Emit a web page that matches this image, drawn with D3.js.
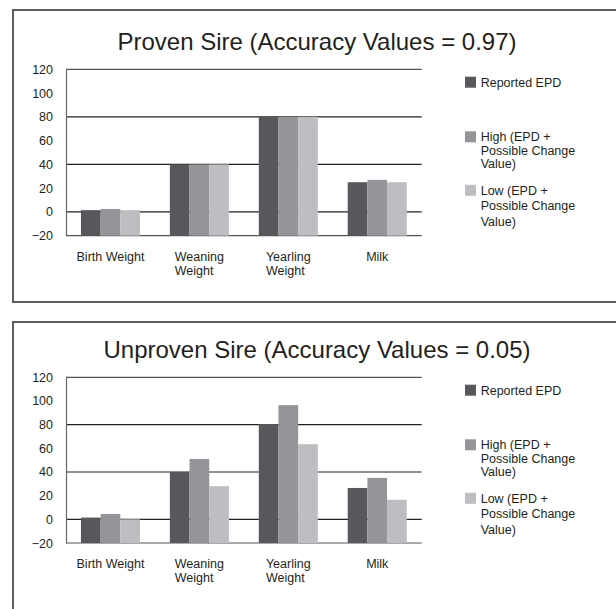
<!DOCTYPE html>
<html>
<head>
<meta charset="utf-8">
<script src="https://cdn.jsdelivr.net/npm/d3@7"></script>
<style>
  body { margin: 0; background: #fff; }
  svg { display: block; font-family: "Liberation Sans", Arial, sans-serif; }
</style>
</head>
<body>
<div id="chart"></div>
<script>
// categories and series
const categories = ["Birth Weight", "Weaning Weight", "Yearling Weight", "Milk"];
const categoryLines = [["Birth Weight"], ["Weaning", "Weight"], ["Yearling", "Weight"], ["Milk"]];
const seriesNames = ["Reported EPD", "High (EPD + Possible Change Value)", "Low (EPD + Possible Change Value)"];
const legendLines = [["Reported EPD"], ["High (EPD +", "Possible Change", "Value)"], ["Low (EPD +", "Possible Change", "Value)"]];

// values
const provenReported = [1.5, 40, 80, 25];
const provenHigh = [2.5, 40, 80, 27];
const provenLow = [1.5, 40, 80, 25];
const unprovenReported = [1.5, 40, 80.5, 26.5];
const unprovenHigh = [4.5, 51, 96.5, 35];
const unprovenLow = [0, 28, 63.5, 16.5];

const yTicks = [-20, 0, 20, 40, 60, 80, 100, 120];
const gridValues = [-20, 0, 40, 80, 120];

const titles = ["Proven Sire (Accuracy Values = 0.97)", "Unproven Sire (Accuracy Values = 0.05)"];

const colors = ["#57585b", "#949598", "#bdbec1"];
const textColor = "#231f20";

const W = 616, H = 609;
const svg = d3.select("#chart").append("svg")
    .attr("width", W)
    .attr("height", H);

const panels = [
    {frameTop: 10, frameH: 292, plotTop: 69.3, plotBottom: 235.7, title: titles[0],
     values: [provenReported, provenHigh, provenLow]},
    {frameTop: 322, frameH: 300, plotTop: 377.3, plotBottom: 543, title: titles[1],
     values: [unprovenReported, unprovenHigh, unprovenLow]}
];

const plotLeft = 66, plotRight = 421.7;

const x = d3.scaleBand()
    .domain(categories)
    .range([plotLeft, plotRight])
    .paddingInner(0.336)
    .paddingOuter(0.168);

const xSub = d3.scaleBand()
    .domain(d3.range(seriesNames.length))
    .range([0, x.bandwidth()]);

// legend line spacing differs a little per entry in the original
const legendOffsets = [7.4, 62, 115.5];
const legendLineH = [13.5, 13.5, 15.5];

panels.forEach(p => {
    const g = svg.append("g");

    g.append("rect")
        .attr("x", 13)
        .attr("y", p.frameTop)
        .attr("width", 640)
        .attr("height", p.frameH)
        .attr("fill", "none")
        .attr("stroke", "#4d4d4d")
        .attr("stroke-width", 1.8);

    g.append("text")
        .attr("x", 317)
        .attr("y", p.plotTop - 19.3)
        .attr("text-anchor", "middle")
        .attr("fill", textColor)
        .style("font-size", "24px")
        .text(p.title);

    const y = d3.scaleLinear()
        .domain([-20, 120])
        .range([p.plotBottom, p.plotTop]);

    // grid lines
    g.selectAll(".grid")
        .data(gridValues)
        .join("line")
        .attr("x1", plotLeft)
        .attr("x2", plotRight)
        .attr("y1", d => y(d))
        .attr("y2", d => y(d))
        .attr("stroke", d => (d === 120 || d === -20) ? "#555" : "#222")
        .attr("stroke-width", 1.2);

    // bars (start at the bottom of the axis, -20)
    categories.forEach((c, i) => {
        p.values.forEach((vals, s) => {
            g.append("rect")
                .attr("x", x(c) + xSub(s))
                .attr("y", y(vals[i]))
                .attr("width", xSub.bandwidth())
                .attr("height", y(-20) - y(vals[i]))
                .attr("fill", colors[s]);
        });
    });

    // left axis
    const yAxis = g.append("g")
        .attr("transform", `translate(${plotLeft},0)`)
        .call(d3.axisLeft(y).tickValues(yTicks).tickSize(0).tickPadding(13));
    yAxis.select(".domain").attr("stroke", "#666").attr("stroke-width", 1.2);
    yAxis.selectAll("text")
        .attr("fill", textColor)
        .style("font-size", "12.5px")
        .style("font-family", "'Liberation Sans', Arial, sans-serif");

    // category labels
    categories.forEach((c, i) => {
        const lines = categoryLines[i];
        const t = g.append("text")
            .attr("fill", textColor)
            .style("font-size", "12.5px");
        lines.forEach((ln, k) => {
            t.append("tspan")
                .attr("x", x(c) + x.bandwidth() / 2)
                .attr("y", p.plotBottom + 25.3 + k * 13.5)
                .text(ln);
        });
        if (lines.length > 1) {
            const w = t.node().getBBox().width;
            t.selectAll("tspan").attr("x", x(c) + x.bandwidth() / 2 - w / 2);
        } else {
            t.attr("text-anchor", "middle");
        }
    });

    // legend
    seriesNames.forEach((s, k) => {
        const top = p.plotTop + legendOffsets[k];
        g.append("rect")
            .attr("x", 465)
            .attr("y", top)
            .attr("width", 11)
            .attr("height", 11)
            .attr("fill", colors[k]);
        const t = g.append("text")
            .attr("fill", textColor)
            .style("font-size", "12.5px");
        legendLines[k].forEach((ln, j) => {
            t.append("tspan")
                .attr("x", 480.7)
                .attr("y", top + 10 + j * legendLineH[k])
                .text(ln);
        });
    });
});
</script>
</body>
</html>
